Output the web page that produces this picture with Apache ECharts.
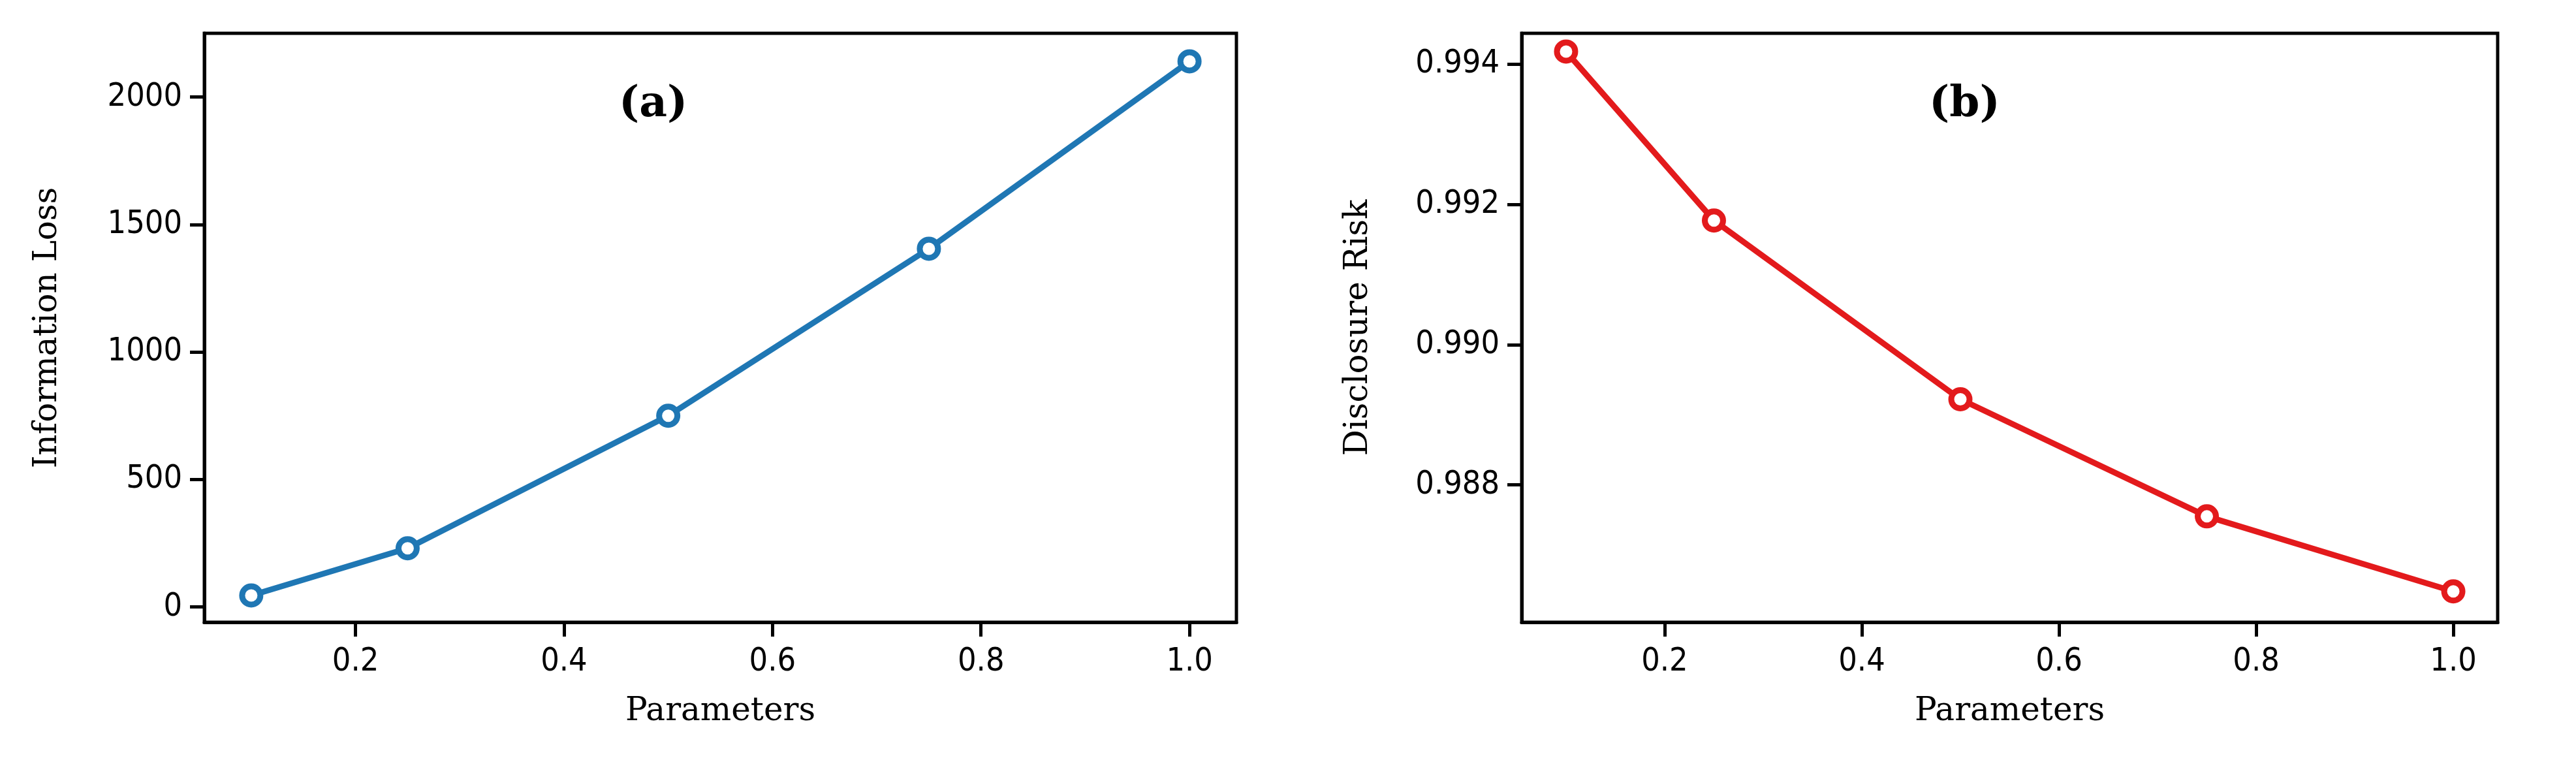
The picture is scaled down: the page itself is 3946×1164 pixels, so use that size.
<!DOCTYPE html>
<html><head><meta charset="utf-8">
<script src="https://cdn.jsdelivr.net/npm/echarts@6/dist/echarts.min.js"></script>
<style>html,body{margin:0;padding:0;background:#fff}#c{width:3946px;height:1164px}</style>
</head><body><div id="c"></div>
<script>
const params = [0.1, 0.25, 0.5, 0.75, 1.0];
const infoLoss = [45, 230, 750, 1405, 2140];
const discRisk = [0.99418, 0.99177, 0.98922, 0.98755, 0.98648];
const xTicks = [0.2, 0.4, 0.6, 0.8, 1.0];
const lossTicks = [0, 500, 1000, 1500, 2000];
const riskTicks = [0.988, 0.990, 0.992, 0.994];

const tickFont = "'DejaVu Sans Condensed','Liberation Sans Narrow','Liberation Sans',sans-serif";
const serif = "'DejaVu Serif','Liberation Serif',serif";
const chart = echarts.init(document.getElementById('c'));
function xAx(i){return {type:'value',gridIndex:i,min:0.055,max:1.045,
  name:'Parameters',nameLocation:'middle',nameGap:112,nameTextStyle:{fontFamily:serif,fontSize:50,color:'#000'},
  axisLine:{show:true,onZero:false,lineStyle:{color:'#000',width:5}},
  axisTick:{show:true,inside:false,length:22,lineStyle:{width:5,color:'#000'},customValues:xTicks},
  axisLabel:{fontFamily:tickFont,fontSize:50,color:'#000',margin:36,customValues:xTicks,formatter:v=>v.toFixed(1)},
  splitLine:{show:false}};}
function yAx(i,min,max,ticks,name,gap,fmt){return {type:'value',gridIndex:i,min:min,max:max,
  name:name,nameLocation:'middle',nameGap:gap,nameTextStyle:{fontFamily:serif,fontSize:50,color:'#000'},
  axisLine:{show:true,onZero:false,lineStyle:{color:'#000',width:5}},
  axisTick:{show:true,inside:false,length:22,lineStyle:{width:5,color:'#000'},customValues:ticks},
  axisLabel:{show:true,fontFamily:tickFont,fontSize:50,color:'#000',margin:34,customValues:ticks,formatter:fmt},
  splitLine:{show:false}};}
function ser(i,data,color){return {type:'line',xAxisIndex:i,yAxisIndex:i,
  data:params.map((p,k)=>[p,data[k]]),lineStyle:{color:color,width:9},
  symbol:'circle',symbolSize:28,itemStyle:{color:'#fff',borderColor:color,borderWidth:9},z:3};}
chart.setOption({
  animation:false,
  grid:[{left:313,top:51,width:1581,height:902,show:true,borderColor:'#000',borderWidth:5},
        {left:2331,top:51,width:1495,height:902,show:true,borderColor:'#000',borderWidth:5}],
  xAxis:[xAx(0),xAx(1)],
  yAxis:[yAx(0,-60,2250,lossTicks,'Information Loss',215,v=>String(v)),
         yAx(1,0.98604,0.99444,riskTicks,'Disclosure Risk',225,v=>v.toFixed(3))],
  series:[ser(0,infoLoss,'#1f77b4'),ser(1,discRisk,'#e31a1c')],
  graphic:[
    {type:'text',left:948,top:128,style:{text:'(a)',font:"bold 66px "+serif,fill:'#000'}},
    {type:'text',left:2955,top:128,style:{text:'(b)',font:"bold 66px "+serif,fill:'#000'}}
  ]
});
</script></body></html>
